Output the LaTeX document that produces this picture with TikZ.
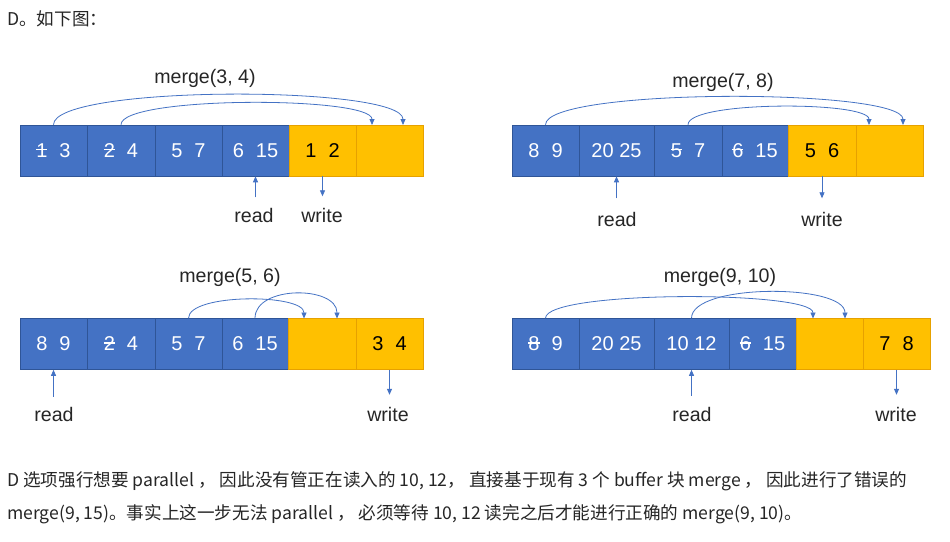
\documentclass[tikz,border=0pt]{standalone}
\usepackage{fontspec}
\setmainfont{Liberation Sans}
\newfontfamily\cjk{Noto Sans CJK SC}
\usetikzlibrary{arrows.meta,calc}
\definecolor{bblue}{HTML}{4472C4}
\definecolor{bbord}{HTML}{2F5597}
\definecolor{byel}{HTML}{FFC000}
\definecolor{ybord}{HTML}{E6A100}
\definecolor{lblue}{HTML}{4472C4}
\definecolor{txt}{HTML}{262626}
\newcommand\stk[1]{\setbox0\hbox{#1}\rlap{\rule[0.36em]{\wd0}{0.07em}}\box0}
\newcommand\gp{\hspace{0.6em}}
\newcommand\mybox[6]{\node[#1, minimum width={(#4-#3)*1pt}] (#2) at ({(#3+#4)/2},#5) {#6};}
\tikzset{
  blk/.style={draw=bbord, fill=bblue, text=white, minimum height=51pt, inner sep=0pt, line width=0.6pt, font=\fontsize{20}{24}\selectfont},
  ylk/.style={draw=ybord, fill=byel, text=black, minimum height=51pt, inner sep=0pt, line width=0.6pt, font=\fontsize{20}{24}\selectfont},
  lbl/.style={font=\fontsize{19.6}{22}\selectfont, text=txt, inner sep=0pt},
  arr/.style={draw=lblue, line width=0.8pt, -{Triangle[length=6pt,width=5pt]}},
  para/.style={font=\cjk\fontsize{17.6}{21}\selectfont, text=txt, anchor=west, inner sep=0pt}
}
\begin{document}
\begin{tikzpicture}[x=1pt,y=-1pt]
\useasboundingbox[fill=white] (0,0) rectangle (950,541);

\node[para] (head) at (7,19) {D。如下图：};

% ---------- panel 1 ----------
\mybox{blk}{p1b1}{20}{87}{150.5}{\stk{1}\gp3}
\mybox{blk}{p1b2}{87}{155}{150.5}{\stk{2}\gp4}
\mybox{blk}{p1b3}{155}{222}{150.5}{5\gp7}
\mybox{blk}{p1b4}{222}{289}{150.5}{6\gp15}
\mybox{ylk}{p1b5}{289}{356}{150.5}{1\gp2}
\mybox{ylk}{p1b6}{356}{423}{150.5}{}
\node[lbl] (m1) at (205,78) {merge(3, 4)};
\coordinate (p1t1) at (372,125);
\coordinate (p1t2) at (403,125);
\draw[arr] (p1b1.north) .. controls +(0,-40) and +(0,-40) .. (p1t2);
\draw[arr] (p1b2.north) .. controls +(0,-29) and +(0,-29) .. (p1t1);
\coordinate (p1r) at ($(p1b4.south)+(0,21)$);
\coordinate (p1w) at ($(p1b5.south)+(0,20)$);
\draw[arr] (p1r) -- (p1b4.south);
\draw[arr] (p1b5.south) -- (p1w);
\node[lbl] (p1rl) at (254,215) {read};
\node[lbl] (p1wl) at (322,215) {write};

% ---------- panel 2 ----------
\mybox{blk}{p2b1}{512}{579}{150.5}{8\gp9}
\mybox{blk}{p2b2}{579}{654}{150.5}{20 25}
\mybox{blk}{p2b3}{654}{722}{150.5}{\stk{5}\gp7}
\mybox{blk}{p2b4}{722}{788}{150.5}{\stk{6}\gp15}
\mybox{ylk}{p2b5}{788}{856}{150.5}{5\gp6}
\mybox{ylk}{p2b6}{856}{923}{150.5}{}
\node[lbl] (m2) at (723,82) {merge(7, 8)};
\coordinate (p2t1) at (869,125);
\coordinate (p2t2) at (903,125);
\draw[arr] (p2b1.north) .. controls +(0,-37) and +(0,-37) .. (p2t2);
\draw[arr] (p2b3.north) .. controls +(0,-24) and +(0,-24) .. (p2t1);
\coordinate (p2r) at ($(p2b2.south)+(0,22)$);
\coordinate (p2w) at ($(p2b5.south)+(0,22)$);
\draw[arr] (p2r) -- (p2b2.south);
\draw[arr] (p2b5.south) -- (p2w);
\node[lbl] (p2rl) at (617,219) {read};
\node[lbl] (p2wl) at (822,219) {write};

% ---------- panel 3 ----------
\mybox{blk}{p3b1}{20}{87}{344}{8\gp9}
\mybox{blk}{p3b2}{87}{155}{344}{\stk{2}\gp4}
\mybox{blk}{p3b3}{155}{222}{344}{5\gp7}
\mybox{blk}{p3b4}{222}{288}{344}{6\gp15}
\mybox{ylk}{p3b5}{288}{356}{344}{}
\mybox{ylk}{p3b6}{356}{423}{344}{3\gp4}
\node[lbl] (m3) at (230,277) {merge(5, 6)};
\coordinate (p3t1) at (304,318.5);
\coordinate (p3t2) at (337,318.5);
\draw[arr] (p3b3.north) .. controls +(0,-25) and +(0,-25) .. (p3t1);
\draw[arr] (p3b4.north) .. controls +(0,-33) and +(0,-33) .. (p3t2);
\coordinate (p3r) at ($(p3b1.south)+(0,27)$);
\coordinate (p3w) at ($(p3b6.south)+(0,25)$);
\draw[arr] (p3r) -- (p3b1.south);
\draw[arr] (p3b6.south) -- (p3w);
\node[lbl] (p3rl) at (54,414) {read};
\node[lbl] (p3wl) at (388,414) {write};

% ---------- panel 4 ----------
\mybox{blk}{p4b1}{512}{579}{344}{\stk{8}\gp9}
\mybox{blk}{p4b2}{579}{654}{344}{20 25}
\mybox{blk}{p4b3}{654}{729}{344}{10 12}
\mybox{blk}{p4b4}{729}{796}{344}{\stk{6}\gp15}
\mybox{ylk}{p4b5}{796}{863}{344}{}
\mybox{ylk}{p4b6}{863}{930}{344}{7\gp8}
\node[lbl] (m4) at (720,277) {merge(9, 10)};
\coordinate (p4t1) at (813,318.5);
\coordinate (p4t2) at (845,318.5);
\draw[arr] (p4b1.north) .. controls +(0,-28) and +(0,-28) .. (p4t1);
\draw[arr] (p4b3.north) .. controls +(0,-35) and +(0,-35) .. (p4t2);
\coordinate (p4r) at ($(p4b3.south)+(0,26)$);
\coordinate (p4w) at ($(p4b6.south)+(0,25)$);
\draw[arr] (p4r) -- (p4b3.south);
\draw[arr] (p4b6.south) -- (p4w);
\node[lbl] (p4rl) at (692,414) {read};
\node[lbl] (p4wl) at (896,414) {write};

% ---------- paragraph ----------
\node[para] (l1) at (7,481) {D 选项强行想要 parallel ， 因此没有管正在读入的 10, 12， 直接基于现有 3 个 buffer 块 merge ， 因此进行了错误的};
\node[para] (l2) at (7,514) {merge(9, 15)。事实上这一步无法 parallel ， 必须等待 10, 12 读完之后才能进行正确的 merge(9, 10)。};
\end{tikzpicture}
\end{document}
